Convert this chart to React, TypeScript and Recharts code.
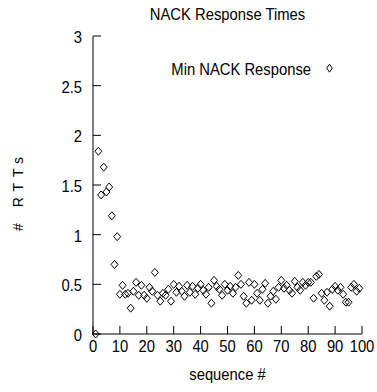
import { ScatterChart, Scatter, XAxis, YAxis, Legend } from 'recharts'

// min NACK response per sequence number, in RTTs
const rtts = [
  0, 1.84, 1.4, 1.68, 1.43, 1.48, 1.19, 0.7, 0.98, 0.4,
  0.49, 0.4, 0.41, 0.26, 0.43, 0.52, 0.39, 0.49, 0.39, 0.36,
  0.47, 0.43, 0.62, 0.39, 0.33, 0.41, 0.39, 0.45, 0.33, 0.5,
  0.42, 0.48, 0.43, 0.38, 0.49, 0.42, 0.48, 0.4, 0.46, 0.5,
  0.44, 0.4, 0.47, 0.31, 0.54, 0.48, 0.45, 0.39, 0.5, 0.44,
  0.48, 0.41, 0.47, 0.59, 0.5, 0.38, 0.31, 0.52, 0.34, 0.5,
  0.41, 0.34, 0.45, 0.51, 0.31, 0.38, 0.43, 0.35, 0.47, 0.54,
  0.46, 0.49, 0.44, 0.41, 0.53, 0.47, 0.44, 0.52, 0.49, 0.52,
  0.52, 0.36, 0.58, 0.6, 0.41, 0.34, 0.42, 0.28, 0.45, 0.48,
  0.44, 0.47, 0.4, 0.32, 0.32, 0.47, 0.5, 0.43, 0.46,
]

const xTicks = [0, 10, 20, 30, 40, 50, 60, 70, 80, 90, 100]
const yTicks = [0, 0.5, 1, 1.5, 2, 2.5, 3]

const title = 'NACK Response Times'
const seriesName = 'Min NACK Response'
const xLabel = 'sequence #'
const yLabel = '# RTTs'

const data = rtts.map((rtt, i) => ({ seq: i + 1, rtt }))

const font = '"Liberation Sans", Arial, sans-serif'
const FS = 17
const SQUEEZE = 0.87 // the original font is a narrow helvetica

const Diamond = (props: any) => {
  const { cx, cy } = props
  return (
    <path
      d={`M${cx},${cy - 4}L${cx + 3.5},${cy}L${cx},${cy + 4}L${cx - 3.5},${cy}Z`}
      fill="none"
      stroke="#000"
      strokeWidth={1}
    />
  )
}

const NarrowText = ({ x, y, anchor, children }: any) => (
  <text
    transform={`translate(${x},${y}) scale(${SQUEEZE},1)`}
    textAnchor={anchor}
    fontSize={FS}
    fontFamily={font}
    fill="#000"
  >
    {children}
  </text>
)

// gnuplot style ticks: marks point into the plot
const BottomTick = ({ x, y, payload }: any) => (
  <g>
    <line x1={x} y1={y} x2={x} y2={y - 8} stroke="#000" />
    <NarrowText x={x} y={y + 18} anchor="middle">
      {payload.value}
    </NarrowText>
  </g>
)

const TopTick = ({ x, y }: any) => (
  <line x1={x} y1={y} x2={x} y2={y + 8} stroke="#000" />
)

const LeftTick = ({ x, y, payload }: any) => (
  <g>
    <line x1={x} y1={y} x2={x + 8} y2={y} stroke="#000" />
    <NarrowText x={x - 11} y={y + 7} anchor="end">
      {payload.value}
    </NarrowText>
  </g>
)

const RightTick = ({ x, y }: any) => (
  <line x1={x} y1={y} x2={x - 8} y2={y} stroke="#000" />
)

const XLabel = ({ viewBox }: any) => (
  <NarrowText x={viewBox.x + viewBox.width / 2} y={viewBox.y + 46} anchor="middle">
    {xLabel}
  </NarrowText>
)

const YLabel = ({ viewBox }: any) => {
  const cx = 23
  const cy = viewBox.y + viewBox.height / 2 + 6
  return (
    <text
      transform={`rotate(-90,${cx},${cy})`}
      x={cx}
      y={cy}
      textAnchor="middle"
      fontSize={14}
      fontFamily={font}
      letterSpacing={6}
      fill="#000"
    >
      {yLabel}
    </text>
  )
}

const LegendBox = () => (
  <svg width={170} height={20} style={{ display: 'block' }}>
    <NarrowText x={142} y={15} anchor="end">
      {seriesName}
    </NarrowText>
    <path d="M160.5,4.2L163.2,8.2L160.5,12.2L157.8,8.2Z" fill="none" stroke="#000" />
  </svg>
)

export default function App() {
  return (
    <div
      style={{
        position: 'absolute',
        left: 0,
        top: 0,
        width: 377,
        height: 392,
        background: '#fff',
        fontFamily: font,
      }}
    >
      {/* Title */}
      <div
        style={{
          position: 'absolute',
          left: 93,
          top: 6,
          width: 269,
          textAlign: 'center',
          fontSize: FS,
          lineHeight: `${FS}px`,
          color: '#000',
          transform: `scaleX(${SQUEEZE})`,
        }}
      >
        {title}
      </div>

      <ScatterChart
        width={377}
        height={392}
        margin={{ top: 36, right: 15, bottom: 0, left: 0 }}
      >
        <XAxis
          xAxisId="b"
          type="number"
          dataKey="seq"
          domain={[0, 100]}
          ticks={xTicks}
          interval={0}
          height={58}
          tickSize={0}
          tickMargin={0}
          tickLine={false}
          tick={BottomTick}
          axisLine={{ stroke: '#000' }}
          label={<XLabel />}
        />
        <XAxis
          xAxisId="t"
          orientation="top"
          type="number"
          dataKey="seq"
          domain={[0, 100]}
          ticks={xTicks}
          interval={0}
          height={0}
          tickSize={0}
          tickMargin={0}
          tickLine={false}
          tick={TopTick}
          axisLine={{ stroke: '#000' }}
        />
        <YAxis
          yAxisId="l"
          type="number"
          dataKey="rtt"
          domain={[0, 3]}
          ticks={yTicks}
          interval={0}
          width={93}
          tickSize={0}
          tickMargin={0}
          tickLine={false}
          tick={LeftTick}
          axisLine={{ stroke: '#000' }}
          label={<YLabel />}
        />
        <YAxis
          yAxisId="r"
          orientation="right"
          type="number"
          dataKey="rtt"
          domain={[0, 3]}
          ticks={yTicks}
          interval={0}
          width={0}
          tickSize={0}
          tickMargin={0}
          tickLine={false}
          tick={RightTick}
          axisLine={{ stroke: '#000' }}
        />
        <Legend
          layout="horizontal"
          verticalAlign="middle"
          align="center"
          content={<LegendBox />}
          wrapperStyle={{ top: 59.5, left: 169, width: 'auto', height: 'auto' }}
        />
        <Scatter
          name={seriesName}
          xAxisId="b"
          yAxisId="l"
          data={data}
          shape={Diamond}
          isAnimationActive={false}
        />
      </ScatterChart>
    </div>
  )
}
